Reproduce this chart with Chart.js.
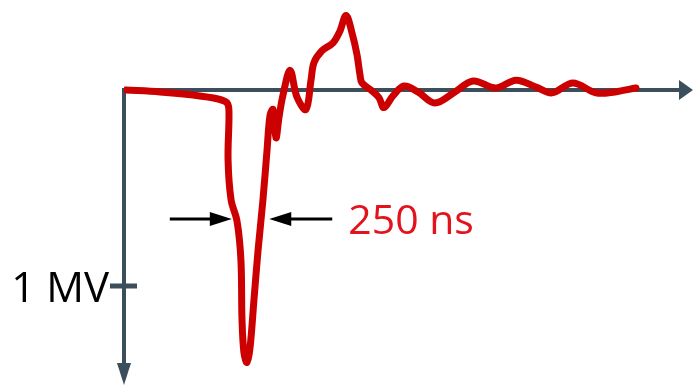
<!DOCTYPE html>
<html>
<head>
<meta charset="utf-8">
<script src="https://cdn.jsdelivr.net/npm/chart.js@4.4.1/dist/chart.umd.min.js"></script>
<style>
  html, body { margin:0; padding:0; background:#fff; }
  #wrap { width:697px; height:389px; }
</style>
</head>
<body>
<div id="wrap"><canvas id="pulse" width="697" height="389"></canvas></div>
<script>
// pulse trace - time in ns, voltage in MV (down = positive)
const timeNs = [13, 240, 461, 628, 688, 701, 695, 715, 755, 781, 788, 801, 821, 841, 868, 895, 928, 955, 975, 995,
  1015, 1035, 1062, 1109, 1155, 1215, 1249, 1269, 1322, 1396, 1442, 1483, 1523, 1556, 1576, 1589, 1656, 1703, 1736,
  1796, 1870, 1963, 2077, 2210, 2331, 2484, 2618, 2751, 2858, 2998, 3152, 3279, 3419];
const voltageMV = [0, 0.01, 0.026, 0.046, 0.066, 0.11, 0.357, 0.56, 0.67, 0.87, 1.17, 1.34, 1.39, 1.32, 1.07, 0.82, 0.56, 0.31, 0.13, 0.10,
  0.245, 0.14, 0.026, -0.10, 0.036, 0.10, -0.05, -0.14, -0.20, -0.24, -0.30, -0.38, -0.29, -0.18, -0.077, -0.036, 0.005, 0.04, 0.09,
  0.03, -0.02, 0.01, 0.066, 0.01, -0.046, -0.01, -0.05, -0.015, 0.015, -0.036, 0.015, 0.01, -0.01];

const yTicks = [1];
const yTickLabels = ['1 MV'];
const widthMarks = [720, 970];     // pulse width arrow tips (ns)
const widthLevel = 0.658;          // MV, where the width arrows sit
const widthLabel = '250 ns';

const AXIS = '#3a4f5b';
const RED = '#cc0000';
const FONT = '"Open Sans", "Noto Sans", sans-serif';

function arrowHead(ctx, x, y, dir, len, half){
  // dir: 'right' | 'left' | 'down'
  ctx.beginPath();
  if(dir === 'right'){ ctx.moveTo(x, y); ctx.lineTo(x - len, y - half); ctx.lineTo(x - len, y + half); }
  else if(dir === 'left'){ ctx.moveTo(x, y); ctx.lineTo(x + len, y - half); ctx.lineTo(x + len, y + half); }
  else { ctx.moveTo(x, y); ctx.lineTo(x - half, y - len); ctx.lineTo(x + half, y - len); }
  ctx.closePath();
  ctx.fill();
}

// axes behind the trace
const axesPlugin = {
  id: 'axes',
  beforeDatasetsDraw(chart){
    const {ctx, chartArea, scales:{x, y}} = chart;
    const x0 = x.getPixelForValue(0), y0 = y.getPixelForValue(0);
    ctx.save();
    ctx.strokeStyle = AXIS; ctx.fillStyle = AXIS; ctx.lineWidth = 4; ctx.lineCap = 'butt';
    ctx.beginPath();
    ctx.moveTo(x0, y0 - 2); ctx.lineTo(x0, chartArea.bottom - 20);
    ctx.moveTo(x0 - 2, y0); ctx.lineTo(chartArea.right - 12, y0);
    ctx.stroke();
    arrowHead(ctx, chartArea.right, y0, 'right', 14, 10);
    arrowHead(ctx, x0, chartArea.bottom, 'down', 22, 7);
    // ticks + labels
    ctx.lineWidth = 5;
    ctx.font = '42px ' + FONT;
    ctx.textAlign = 'right'; ctx.textBaseline = 'alphabetic';
    yTicks.forEach((v, i) => {
      const py = y.getPixelForValue(v);
      ctx.beginPath(); ctx.moveTo(x0 - 14, py); ctx.lineTo(x0 + 13, py); ctx.stroke();
      ctx.fillStyle = '#000';
      ctx.fillText(yTickLabels[i], x0 - 15, py + 16);
      ctx.fillStyle = AXIS;
    });
    ctx.restore();
  },
  afterDraw(chart){
    const {ctx, scales:{x, y}} = chart;
    const py = y.getPixelForValue(widthLevel);
    const l = x.getPixelForValue(widthMarks[0]), r = x.getPixelForValue(widthMarks[1]);
    ctx.save();
    ctx.strokeStyle = '#000'; ctx.fillStyle = '#000'; ctx.lineWidth = 3;
    ctx.beginPath();
    ctx.moveTo(l - 62, py); ctx.lineTo(l - 20, py);
    ctx.moveTo(r + 20, py); ctx.lineTo(r + 63, py);
    ctx.stroke();
    arrowHead(ctx, l, py, 'right', 22, 7);
    arrowHead(ctx, r, py, 'left', 22, 7);
    ctx.fillStyle = '#e3131b';
    ctx.font = '41px ' + FONT;
    ctx.textAlign = 'left'; ctx.textBaseline = 'alphabetic';
    ctx.fillText(widthLabel, r + 79, py + 15);
    ctx.restore();
  }
};

new Chart(document.getElementById('pulse'), {
  type: 'line',
  data: {
    datasets: [{
      data: timeNs.map((t, i) => ({x: t, y: voltageMV[i]})),
      borderColor: RED,
      borderWidth: 7,
      pointRadius: 0,
      tension: 0.35,
      fill: false,
      borderCapStyle: 'round',
      borderJoinStyle: 'round'
    }]
  },
  options: {
    responsive: false,
    animation: false,
    devicePixelRatio: 1,
    layout: { padding: { left: 124, right: 4, top: 8, bottom: 4 } },
    plugins: { legend: { display: false }, tooltip: { enabled: false } },
    scales: {
      x: { type: 'linear', min: 0, max: 3800, display: false },
      y: { type: 'linear', min: -0.418, max: 1.505, reverse: true, display: false }
    }
  },
  plugins: [axesPlugin]
});
</script>
</body>
</html>
